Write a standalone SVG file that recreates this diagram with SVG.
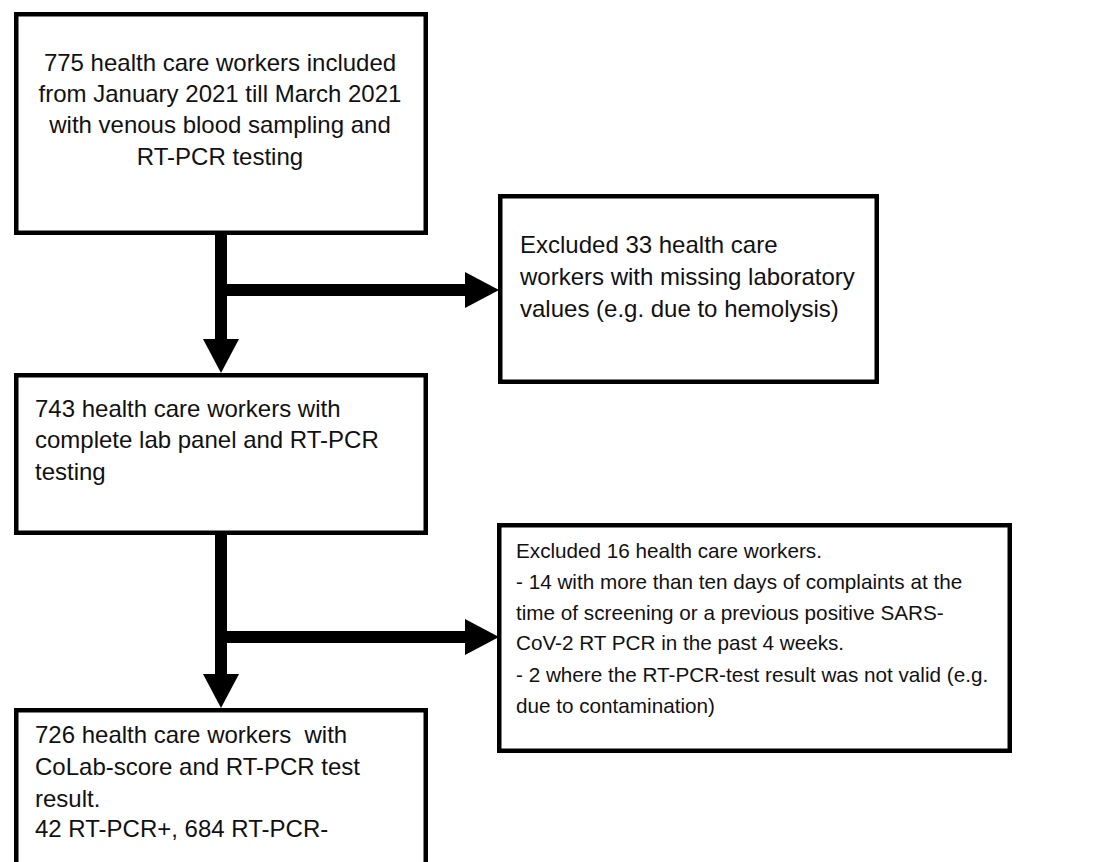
<svg xmlns="http://www.w3.org/2000/svg" width="1094" height="862" viewBox="0 0 1094 862">
<style>
  .box { fill: #ffffff; stroke: #000000; stroke-width: 4.5; }
  .t { font-family: "Liberation Sans", Arial, sans-serif; font-size: 24px; fill: #111111; }
  .ts { font-size: 20.7px; }
  .c { text-anchor: middle; }
  .conn { fill: none; stroke: #000000; stroke-width: 12; }
</style>
<defs>
  <marker id="ah" viewBox="0 0 34 36" refX="0" refY="18" markerWidth="34" markerHeight="36" markerUnits="userSpaceOnUse" orient="auto">
    <path d="M0,0 L34,18 L0,36 Z" fill="#000000"/>
  </marker>
</defs>
<rect width="1094" height="862" fill="#ffffff"/>
<g id="connectors">
  <path class="conn" d="M221,235 V339" marker-end="url(#ah)"/>
  <path class="conn" d="M221,290 H465" marker-end="url(#ah)"/>
  <path class="conn" d="M221,535 V674" marker-end="url(#ah)"/>
  <path class="conn" d="M221,637 H465" marker-end="url(#ah)"/>
</g>
<g id="node-included">
  <rect class="box" x="16.25" y="14.25" width="409.5" height="218.5"/>
  <text class="t c" x="220" y="71">775 health care workers included</text>
  <text class="t c" x="220" y="102">from January 2021 till March 2021</text>
  <text class="t c" x="220" y="133">with venous blood sampling and</text>
  <text class="t c" x="220" y="165">RT-PCR testing</text>
</g>
<g id="node-excluded33">
  <rect class="box" x="500.25" y="196.25" width="376.5" height="185.5"/>
  <text class="t" x="520" y="253">Excluded 33 health care</text>
  <text class="t" x="520" y="285">workers with missing laboratory</text>
  <text class="t" x="520" y="317">values (e.g. due to hemolysis)</text>
</g>
<g id="node-complete">
  <rect class="box" x="16.25" y="375.25" width="409.5" height="157.5"/>
  <text class="t" x="35" y="417">743 health care workers with</text>
  <text class="t" x="35" y="448">complete lab panel and RT-PCR</text>
  <text class="t" x="35" y="480">testing</text>
</g>
<g id="node-excluded16">
  <rect class="box" x="499.25" y="525.25" width="510.5" height="225.5"/>
  <text class="t ts" x="516" y="558">Excluded 16 health care workers.</text>
  <text class="t ts" x="516" y="589">- 14 with more than ten days of complaints at the</text>
  <text class="t ts" x="516" y="620">time of screening or a previous positive SARS-</text>
  <text class="t ts" x="516" y="650">CoV-2 RT PCR in the past 4 weeks.</text>
  <text class="t ts" x="516" y="682">- 2 where the RT-PCR-test result was not valid (e.g.</text>
  <text class="t ts" x="516" y="713">due to contamination)</text>
</g>
<g id="node-final">
  <rect class="box" x="16.25" y="710.25" width="409.5" height="200"/>
  <text class="t" x="35" y="743" xml:space="preserve">726 health care workers  with</text>
  <text class="t" x="35" y="775">CoLab-score and RT-PCR test</text>
  <text class="t" x="35" y="807">result.</text>
  <text class="t" x="35" y="837">42 RT-PCR+, 684 RT-PCR-</text>
</g>
</svg>
